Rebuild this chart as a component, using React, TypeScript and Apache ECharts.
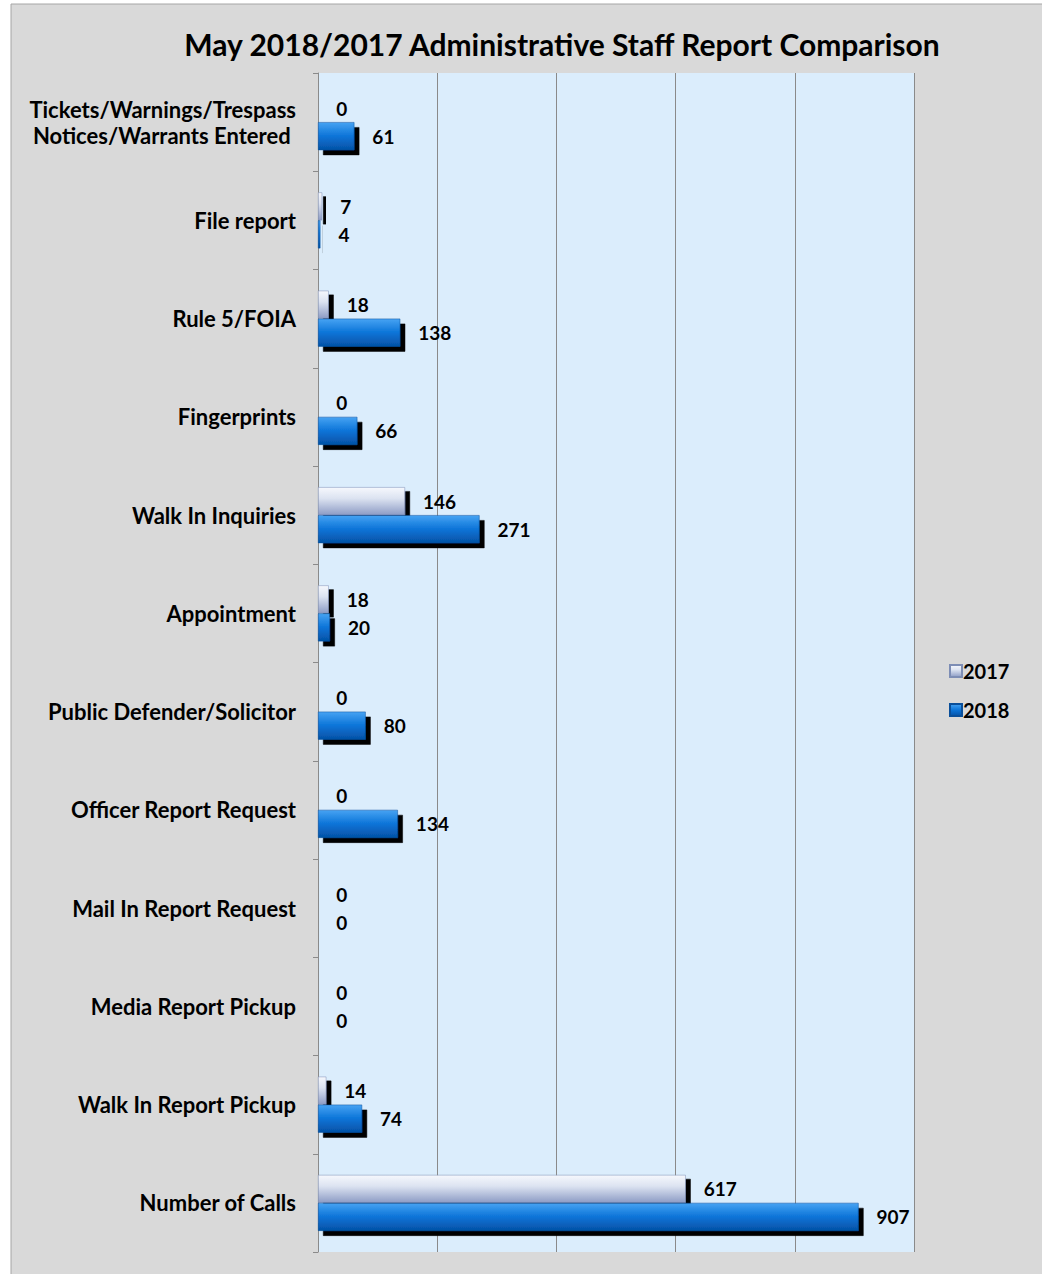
import React, { useEffect, useRef } from "react";
import * as echarts from "echarts";

const categories = [
  "Tickets/Warnings/Trespass\nNotices/Warrants Entered ",
  "File report",
  "Rule 5/FOIA",
  "Fingerprints",
  "Walk In Inquiries",
  "Appointment",
  "Public Defender/Solicitor",
  "Officer Report Request",
  "Mail In Report Request",
  "Media Report Pickup",
  "Walk In Report Pickup",
  "Number of Calls",
];
const values2017 = [0, 7, 18, 0, 146, 18, 0, 0, 0, 0, 14, 617];
const values2018 = [61, 4, 138, 66, 271, 20, 80, 134, 0, 0, 74, 907];
const seriesNames = ["2017", "2018"];
const titleText = "May 2018/2017 Administrative Staff Report Comparison";

const FONT = "Lato, 'Open Sans', sans-serif";

export default function App() {
  const ref = useRef<HTMLDivElement>(null);
  useEffect(() => {
    if (!ref.current) return;
    const chart = echarts.init(ref.current, null, { renderer: "svg" });
    const grad2017 = new echarts.graphic.LinearGradient(0, 0, 0, 1, [
      { offset: 0, color: "#f6f8fd" },
      { offset: 0.4, color: "#dce3f1" },
      { offset: 1, color: "#8d9cc5" },
    ]);
    const grad2018 = new echarts.graphic.LinearGradient(0, 0, 0, 1, [
      { offset: 0, color: "#46a3f3" },
      { offset: 0.5, color: "#0c74d8" },
      { offset: 1, color: "#0552a6" },
    ]);
    const labelStyle = {
      show: true,
      position: "right" as const,
      distance: 18,
      fontFamily: FONT,
      fontWeight: "bold" as const,
      fontSize: 19,
      color: "#000",
    };
    chart.setOption({
      animation: false,
      backgroundColor: "#ffffff",
      graphic: [
        {
          type: "rect",
          z: -10,
          shape: { x: 11, y: 4, width: 1040, height: 1290 },
          style: { fill: "#d9d9d9", stroke: "#a6a6a6", lineWidth: 1 },
          silent: true,
        },
      ],
      title: {
        text: titleText,
        left: 557,
        top: 24,
        textAlign: "center",
        textStyle: { fontFamily: FONT, fontWeight: "bold", fontSize: 30, color: "#000" },
      },
      legend: {
        orient: "vertical",
        left: 944,
        top: 656,
        itemWidth: 12,
        itemHeight: 12,
        itemGap: 19,
        icon: "rect",
        textStyle: { fontFamily: FONT, fontWeight: "bold", fontSize: 20, color: "#000", padding: [0, 0, 0, -4] },
        data: seriesNames,
      },
      grid: {
        left: 318,
        top: 73,
        width: 596,
        height: 1179,
        show: true,
        backgroundColor: "#dbedfc",
        borderWidth: 0,
      },
      xAxis: {
        type: "value",
        min: 0,
        max: 1000,
        interval: 200,
        axisLabel: { show: false },
        axisLine: { show: false },
        axisTick: { show: false },
        splitLine: { show: true, lineStyle: { color: "#8a8a8a", width: 1 } },
      },
      yAxis: {
        type: "category",
        inverse: true,
        data: categories,
        axisLine: { show: true, lineStyle: { color: "#8a8a8a" } },
        axisTick: { show: true, length: 5, lineStyle: { color: "#8a8a8a" } },
        axisLabel: {
          fontFamily: FONT,
          fontWeight: "bold",
          fontSize: 22,
          color: "#000",
          margin: 22,
          lineHeight: 26,
          align: "right",
        },
      },
      series: [
        {
          name: seriesNames[0],
          type: "bar",
          data: values2017,
          barWidth: 28,
          barGap: "0%",
          itemStyle: {
            color: grad2017,
            borderColor: "#7d8db5",
            borderWidth: 0.5,
            shadowColor: "#000",
            shadowBlur: 0,
            shadowOffsetX: 5,
            shadowOffsetY: 4,
          },
          label: labelStyle,
        },
        {
          name: seriesNames[1],
          type: "bar",
          data: values2018,
          barWidth: 28,
          barGap: "0%",
          itemStyle: {
            color: grad2018,
            borderColor: "#0a4f9a",
            borderWidth: 0.5,
            shadowColor: "#000",
            shadowBlur: 0,
            shadowOffsetX: 5,
            shadowOffsetY: 5,
          },
          label: labelStyle,
        },
      ],
    });
    return () => chart.dispose();
  }, []);
  return (
    <div
      ref={ref}
      style={{ position: "absolute", left: 0, top: 0, width: 1042, height: 1274 }}
    />
  );
}
